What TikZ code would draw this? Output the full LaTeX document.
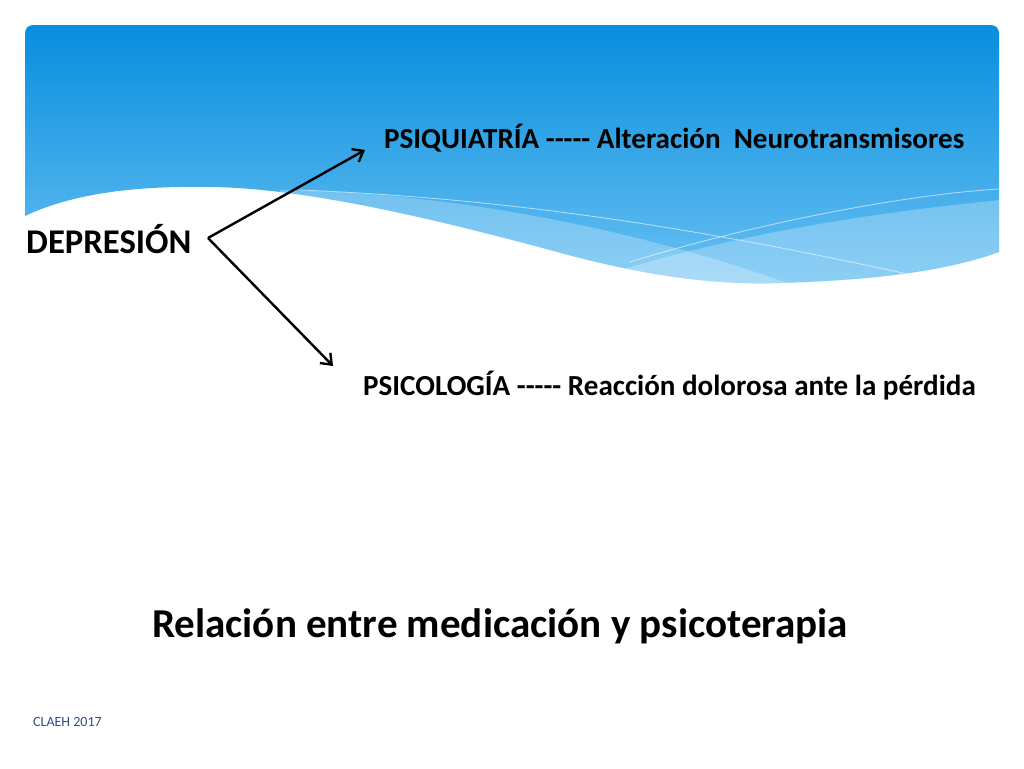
\documentclass[tikz,border=0pt]{standalone}
\usepackage{fontspec}
\setmainfont{Carlito}
\usetikzlibrary{arrows.meta}

\definecolor{skytop}{RGB}{8,142,222}
\definecolor{skybottom}{RGB}{104,192,242}
\definecolor{footblue}{RGB}{47,78,138}

\begin{document}
\begin{tikzpicture}[x = 0.75pt, y = -0.75pt, line width = 1.8pt,
                      head/.style = {font = \bfseries\fontsize{21.8}{26}\selectfont, anchor = base west, inner sep = 0pt},
                      big/.style = {font = \bfseries\fontsize{26}{31}\selectfont, anchor = base west, inner sep = 0pt},
                      arrowline/.style = {-{Straight Barb[length = 7pt, width = 11pt]}}]
    \useasboundingbox (0, 0) rectangle (1024, 768);

    % header with waves
    \def\wave{(25, 216) [rounded corners = 6pt] -- (25, 25) -- (999, 25) [sharp corners] -- (999, 252)
        .. controls (950, 270) and (880, 280) .. (780, 283)
        .. controls (720, 285) and (650, 278) .. (550, 250)
        .. controls (420, 215) and (300, 188) .. (210, 187)
        .. controls (150, 186) and (80, 190) .. cycle}
    \shade [top color = skytop, bottom color = skybottom] \wave;
    \begin{scope}
        \clip \wave;
        \fill [white, opacity = 0.25] (280, 190) .. controls (450, 192) and (650, 230) .. (820, 295) -- (820, 400) -- (200, 400) -- cycle;
        \fill [white, opacity = 0.25] (560, 290) .. controls (700, 240) and (850, 215) .. (1000, 200) -- (1000, 400) -- (560, 400) -- cycle;
        \draw [white, opacity = 0.6, line width = 0.6pt] (300, 190) .. controls (550, 200) and (750, 240) .. (917, 276);
        \draw [white, opacity = 0.6, line width = 0.6pt] (630, 262) .. controls (750, 225) and (900, 195) .. (999, 189);
    \end{scope}

    \node [big] (dep) at (25, 253) {DEPRESIÓN};
    \node [head] (psiq) at (383, 148) {PSIQUIATRÍA -{}-{}-{}-{}- Alteración~ Neurotransmisores};
    \node [head] (psic) at (362, 395) {PSICOLOGÍA -{}-{}-{}-{}- Reacción dolorosa ante la pérdida};
    \node [font = \bfseries\fontsize{30.8}{37}\selectfont, anchor = base, inner sep = 0pt] (title) at (500, 637) {Relación entre medicación y psicoterapia};
    \node [font = \fontsize{10.5}{12}\selectfont, text = footblue, anchor = base west, inner sep = 0pt] (claeh) at (32, 726) {CLAEH 2017};

    \coordinate (apex) at (208, 238);
    \coordinate (up) at (365, 150);
    \coordinate (down) at (333, 366);
    \draw [arrowline] (apex) -- (up);
    \draw [arrowline] (apex) -- (down);
\end{tikzpicture}
\end{document}
